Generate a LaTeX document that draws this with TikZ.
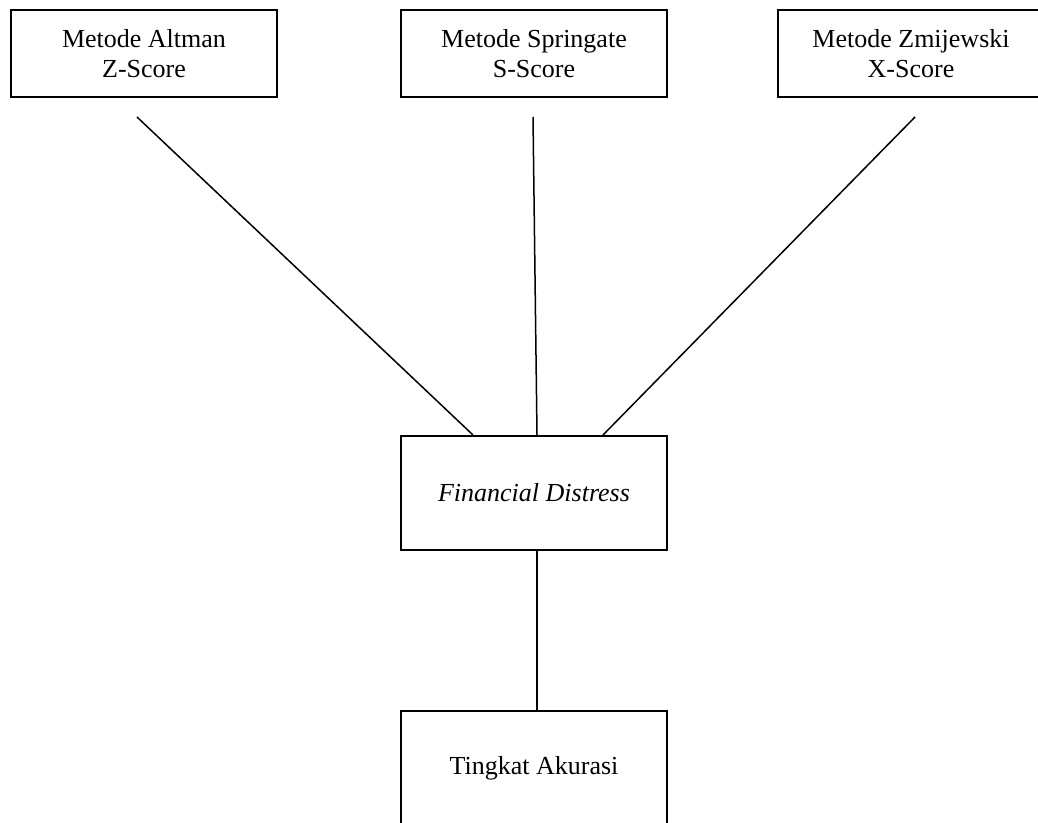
\documentclass[tikz,border=0pt]{standalone}
\usepackage{fontspec}
\setmainfont{Liberation Serif}
\usepackage{tikz}
\usetikzlibrary{calc}

\begin{document}
\begin{tikzpicture}[
  x=0.5pt, y=-0.5pt,
  every node/.style={inner sep=2pt},
  box/.style={draw, line width=1pt, align=center, minimum width=133pt,
              font=\fontsize{13}{15}\selectfont},
  topbox/.style={box, minimum height=43.5pt},
  midbox/.style={box, minimum height=57pt},
  link/.style={line width=0.75pt},
  thick link/.style={line width=1.3pt}
]
\useasboundingbox (0,0) rectangle (1038,823);

% Methods
\node[topbox] (altman) at (144,53.5) {Metode Altman\\Z-Score};
\node[topbox] (springate) at (534,53.5) {Metode Springate\\S-Score};
\node[topbox] (zmijewski) at (911,53.5) {Metode Zmijewski\\X-Score};

% Outcome and accuracy
\node[midbox] (distress) at (534,493) {\textit{Financial Distress}};
\node[midbox] (akurasi) at (534,768) {Tingkat Akurasi};

% Connectors
\draw[link] ($(altman.south)+(-7,19)$) -- ($(distress.north)+(-61,0)$);
\draw[link] ($(springate.south)+(-1,19)$) -- ($(distress.north)+(3,0)$);
\draw[link] ($(zmijewski.south)+(4,19)$) -- ($(distress.north)+(69,0)$);
\draw[thick link] ($(distress.south)+(3,0)$) -- ($(akurasi.north)+(3,0)$);

\end{tikzpicture}
\end{document}
